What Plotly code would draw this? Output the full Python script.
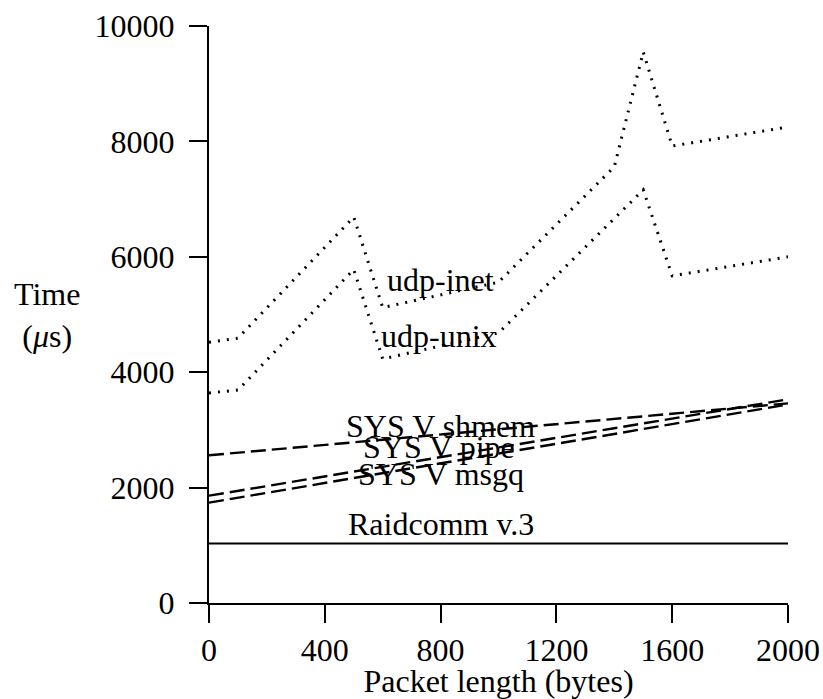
import plotly.graph_objects as go

# Packet length (bytes)
x_udp = [0, 100, 500, 600, 1000, 1400, 1500, 1600, 2000]
udp_inet = [4520, 4590, 6690, 5120, 5560, 7560, 9550, 7920, 8250]
udp_unix = [3640, 3690, 5780, 4230, 4680, 6670, 7160, 5670, 6000]

x_sysv = [0, 2000]
sysv_shmem = [2560, 3460]
sysv_pipe = [1860, 3530]
sysv_msgq = [1740, 3440]

x_raid = [0, 2000]
raidcomm = [1030, 1030]

labels = ["udp-inet", "udp-unix", "SYS V shmem", "SYS V pipe", "SYS V msgq", "Raidcomm v.3"]
label_x = [800, 795, 798, 795, 801, 801]
label_y = [5600, 4630, 3070, 2700, 2240, 1370]

x_ticks = [0, 400, 800, 1200, 1600, 2000]
y_ticks = [0, 2000, 4000, 6000, 8000, 10000]

FONT = "Liberation Serif"
FS = 32

fig = go.Figure()
dot = dict(color="black", width=3, dash="2px,7px")
dash = dict(color="black", width=2.4, dash="15px,6px")

fig.add_trace(go.Scatter(x=x_udp, y=udp_inet, mode="lines", line=dot, name="udp-inet"))
fig.add_trace(go.Scatter(x=x_udp, y=udp_unix, mode="lines", line=dot, name="udp-unix"))
fig.add_trace(go.Scatter(x=x_sysv, y=sysv_shmem, mode="lines", line=dash, name="SYS V shmem"))
fig.add_trace(go.Scatter(x=x_sysv, y=sysv_pipe, mode="lines", line=dash, name="SYS V pipe"))
fig.add_trace(go.Scatter(x=x_sysv, y=sysv_msgq, mode="lines", line=dash, name="SYS V msgq"))
fig.add_trace(go.Scatter(x=x_raid, y=raidcomm, mode="lines",
                         line=dict(color="black", width=2), name="Raidcomm v.3"))

for t, lx, ly in zip(labels, label_x, label_y):
    fig.add_annotation(x=lx, y=ly, text=t, showarrow=False, xanchor="center", yanchor="middle",
                       font=dict(family=FONT, size=FS, color="black"))

fig.add_annotation(x=-0.28, y=0.50, xref="paper", yref="paper", text="Time<br>(<i>μ</i>s)",
                   showarrow=False, xanchor="center", yanchor="middle", align="center",
                   font=dict(family=FONT, size=FS, color="black"))

axis_common = dict(showline=True, linecolor="black", linewidth=2, ticks="outside", ticklen=18,
                   tickwidth=2, tickcolor="black", showgrid=False, zeroline=False,
                   automargin=False,
                   tickfont=dict(family=FONT, size=FS, color="black"))

fig.update_layout(
    width=823, height=699,
    margin=dict(l=209, r=35, t=26, b=96),
    paper_bgcolor="white", plot_bgcolor="white",
    showlegend=False,
    font=dict(family=FONT, size=FS, color="black"),
    xaxis=dict(range=[0, 2000], tickvals=x_ticks, ticktext=[str(v) for v in x_ticks],
               title=dict(text="Packet length (bytes)", font=dict(family=FONT, size=FS), standoff=0),
               **axis_common),
    yaxis=dict(range=[0, 10000], tickvals=y_ticks, ticktext=[str(v) for v in y_ticks],
               ticklabelstandoff=8,
               **axis_common),
)

fig.write_html("out.html")
